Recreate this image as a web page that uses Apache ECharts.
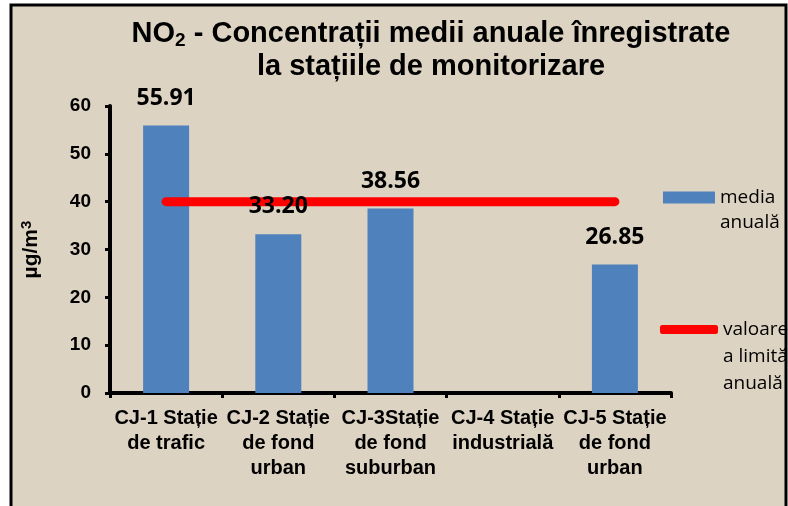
<!DOCTYPE html>
<html>
<head>
<meta charset="utf-8">
<script src="https://cdn.jsdelivr.net/npm/echarts@6/dist/echarts.min.js"></script>
<style>
    html, body { margin: 0; padding: 0; background: #ffffff; }
    #main { width: 788px; height: 506px; }
</style>
</head>
<body>
<div id="main"></div>
<script type="text/javascript">
    // categories and values
    var categories = ['CJ-1 Stație\nde trafic', 'CJ-2 Stație\nde fond\nurban', 'CJ-3Stație\nde fond\nsuburban', 'CJ-4 Stație\nindustrială', 'CJ-5 Stație\nde fond\nurban'];
    var mediaAnuala = [55.91, 33.20, 38.56, null, 26.85];
    var valoareLimita = [40, 40, 40, 40, 40];
    var yTicks = [0, 10, 20, 30, 40, 50, 60];

    var myChart = echarts.init(document.getElementById('main'));
    var option = {
        backgroundColor: '#ffffff',
        animation: false,
        graphic: [
            {
                type: 'rect',
                z: -10,
                shape: {x: 11, y: 5, width: 775, height: 505},
                style: {fill: '#ddd3c2', stroke: '#000000', lineWidth: 3}
            }
        ],
        title: {
            text: 'NO{sub|2} - Concentrații medii anuale înregistrate\nla stațiile de monitorizare',
            left: 431,
            top: 17,
            padding: 0,
            textAlign: 'center',
            textStyle: {
                fontFamily: 'Liberation Sans',
                fontWeight: 'bold',
                fontSize: 29,
                lineHeight: 33,
                color: '#000000',
                rich: {
                    sub: {
                        fontFamily: 'Liberation Sans',
                        fontWeight: 'bold',
                        fontSize: 19,
                        verticalAlign: 'bottom',
                        padding: [14, 0, 0, 0]
                    }
                }
            }
        },
        legend: [
            {
                data: ['media anuală'],
                left: 663,
                top: 160,
                padding: 0,
                orient: 'vertical',
                itemWidth: 52,
                itemHeight: 12,
                icon: 'rect',
                // empty first line keeps the icon beside the first text line
                formatter: function () { return ' \nmedia\nanuală'; },
                textStyle: {fontFamily: 'Open Sans', fontSize: 19, lineHeight: 25, color: '#000000'}
            },
            {
                data: ['valoare a limită anuală'],
                left: 660,
                top: 262,
                padding: 0,
                orient: 'vertical',
                itemWidth: 58,
                itemHeight: 9,
                itemGap: 0,
                icon: 'roundRect',
                formatter: function () { return ' \n \nvaloare\na limită\nanuală'; },
                textStyle: {fontFamily: 'Open Sans', fontSize: 19, lineHeight: 27, color: '#000000'}
            }
        ],
        grid: {left: 110, right: 117, top: 106, bottom: 113},
        xAxis: {
            type: 'category',
            data: categories,
            axisLine: {lineStyle: {color: '#000000', width: 4}},
            axisTick: {show: true, length: 5, lineStyle: {color: '#000000', width: 3}},
            axisLabel: {
                interval: 0,
                margin: 13,
                fontFamily: 'Liberation Sans',
                fontWeight: 'bold',
                fontSize: 20,
                lineHeight: 25,
                color: '#000000'
            }
        },
        yAxis: {
            type: 'value',
            min: yTicks[0],
            max: yTicks[yTicks.length - 1],
            interval: 10,
            name: 'µg/m{sup|3}',
            nameLocation: 'middle',
            nameGap: 66,
            nameRotate: 90,
            nameTextStyle: {
                fontFamily: 'Liberation Sans',
                fontWeight: 'bold',
                fontSize: 21,
                color: '#000000',
                rich: {
                    sup: {fontFamily: 'Liberation Sans', fontSize: 15, verticalAlign: 'top', padding: [0, 0, 10, 0]}
                }
            },
            axisLine: {show: true, lineStyle: {color: '#000000', width: 4}},
            axisTick: {show: true, length: 5, lineStyle: {color: '#000000', width: 3}},
            splitLine: {show: false},
            axisLabel: {
                margin: 19,
                fontFamily: 'Liberation Sans',
                fontWeight: 'bold',
                fontSize: 19,
                color: '#000000'
            }
        },
        series: [
            {
                name: 'media anuală',
                type: 'bar',
                data: mediaAnuala,
                barWidth: 46,
                itemStyle: {color: '#4f81bd'},
                z: 2
            },
            {
                name: 'valoare a limită anuală',
                type: 'line',
                data: valoareLimita,
                showSymbol: false,
                symbol: 'none',
                itemStyle: {color: '#ff0000'},
                lineStyle: {color: '#ff0000', width: 9, cap: 'round'},
                z: 3
            },
            {
                // labels drawn above the red line
                name: 'etichete',
                type: 'bar',
                data: mediaAnuala,
                barWidth: 46,
                barGap: '-100%',
                silent: true,
                itemStyle: {color: 'rgba(0,0,0,0)'},
                label: {
                    show: true,
                    position: 'top',
                    distance: 16,
                    formatter: function (p) { return p.value.toFixed(2); },
                    fontFamily: 'Open Sans',
                    fontWeight: 'bold',
                    fontSize: 23,
                    color: '#000000'
                },
                z: 5
            }
        ]
    };
    myChart.setOption(option);
</script>
</body>
</html>
